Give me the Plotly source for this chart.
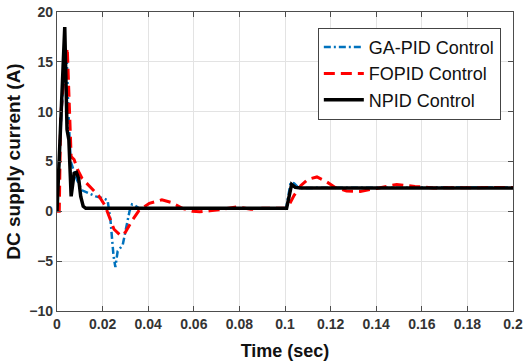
import plotly.graph_objects as go

# GA-PID Control
t_ga = [0, 0.0015, 0.003, 0.0042, 0.005, 0.006, 0.0075, 0.0088, 0.011, 0.014, 0.017, 0.0205, 0.0222,
        0.0235, 0.0248, 0.0256, 0.0266, 0.0288, 0.0305, 0.0318, 0.0329, 0.034, 0.036, 0.1, 0.1005,
        0.1025, 0.104, 0.106, 0.2]
i_ga = [0, 8, 14, 16.0, 10, 5, 4, 3.15, 2.1, 1.8, 1.5, 1.3, 1.1,
        -1, -4.5, -5.6, -4.0, -3.4, -1.5, 0, 0.7, 0.6, 0.3, 0.3, 0.3,
        2.9, 2.8, 2.35, 2.4]

# FOPID Control
t_fo = [0, 0.001, 0.0016, 0.0025, 0.0045, 0.0055, 0.0062, 0.0075, 0.009, 0.011, 0.014, 0.0185, 0.021,
        0.023, 0.025, 0.028, 0.030, 0.033, 0.036, 0.0405, 0.046, 0.050, 0.055, 0.0595, 0.0626, 0.067,
        0.071, 0.0787, 0.085, 0.09, 0.1, 0.101, 0.104, 0.107, 0.110, 0.114, 0.118, 0.122, 0.127,
        0.133, 0.14, 0.149, 0.157, 0.165, 0.2]
i_fo = [0, 0, 9.5, 12, 16.4, 9, 5.5, 5.2, 4.2, 3.3, 2.6, 1.5, 0.6,
        -0.6, -1.8, -2.45, -2.1, -0.9, 0.1, 0.8, 1.15, 0.9, 0.3, 0.0, -0.05, 0.05,
        0.15, 0.45, 0.2, 0.3, 0.3, 0.3, 1.6, 2.6, 3.2, 3.45, 3.0, 2.4, 2.05,
        2.0, 2.3, 2.7, 2.5, 2.35, 2.4]

# NPID Control
t_np = [0, 0.0034, 0.0044, 0.0052, 0.0062, 0.0075, 0.0085, 0.0095, 0.0104, 0.0115, 0.0126,
        0.1, 0.1007, 0.1029, 0.1045, 0.107, 0.2]
i_np = [0, 18.5, 8.2, 7.2, 1.5, 3.8, 3.9, 3.3, 1.5, 0.5, 0.3,
        0.3, 0.3, 2.7, 2.4, 2.35, 2.35]

x_ticks = [0, 0.02, 0.04, 0.06, 0.08, 0.1, 0.12, 0.14, 0.16, 0.18, 0.2]
x_labels = ["0", "0.02", "0.04", "0.06", "0.08", "0.1", "0.12", "0.14", "0.16", "0.18", "0.2"]
y_ticks = [-10, -5, 0, 5, 10, 15, 20]

FONT = "Arial, Liberation Sans, Helvetica, sans-serif"
AX = "#4d4d4d"

fig = go.Figure()
fig.add_trace(go.Scatter(x=t_ga, y=i_ga, mode="lines", name="GA-PID Control",
                         line=dict(color="#0072BD", width=2.5, dash="7px,3px,2px,3px")))
fig.add_trace(go.Scatter(x=t_fo, y=i_fo, mode="lines", name="FOPID Control",
                         line=dict(color="#ff0000", width=3, dash="11px,6px")))
fig.add_trace(go.Scatter(x=t_np, y=i_np, mode="lines", name="NPID Control",
                         line=dict(color="#000000", width=3.5)))

axis_common = dict(showgrid=True, gridcolor="#e3e3e3", gridwidth=1, zeroline=False,
                   showline=True, linecolor=AX, linewidth=1.2, mirror="ticks",
                   ticks="inside", ticklen=5, tickcolor=AX,
                   tickfont=dict(family=FONT, size=14, color="#333333", weight="bold"))

fig.update_layout(
    width=526, height=361,
    margin=dict(l=57, r=13, t=12, b=50),
    paper_bgcolor="white", plot_bgcolor="white",
    font=dict(family=FONT),
    showlegend=True,
    legend=dict(x=0.572, y=0.947, xanchor="left", yanchor="top",
                bgcolor="white", bordercolor="#444444", borderwidth=1,
                font=dict(family=FONT, size=18, color="#111111"),
                itemwidth=40, tracegroupgap=0),
    xaxis=dict(range=[0, 0.2], tickvals=x_ticks, ticktext=x_labels,
               title=dict(text="Time (sec)", standoff=19,
                          font=dict(family=FONT, size=18, color="#111111", weight="bold")),
               automargin=False, **axis_common),
    yaxis=dict(range=[-10, 20], tickvals=y_ticks,
               title=dict(text="DC supply current (A)", standoff=3,
                          font=dict(family=FONT, size=19, color="#111111", weight="bold")),
               automargin=False, **axis_common),
)

fig.write_html("out.html")
